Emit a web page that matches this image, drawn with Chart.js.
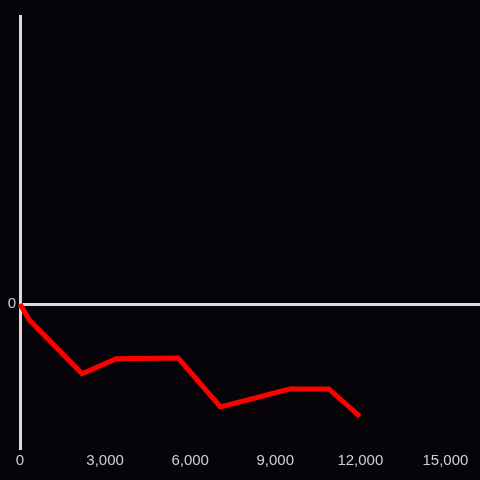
<!DOCTYPE html>
<html lang="en">
<head>
    <meta charset="UTF-8">
    <title>Line chart</title>
    <script src="https://cdn.jsdelivr.net/npm/chart.js"></script>
    <style>
        * {
            margin: 0;
            padding: 0;
            box-sizing: border-box;
        }

        body {
            background: #060408;
        }

        .chart-box {
            width: 480px;
            height: 480px;
        }
    </style>
</head>
<body>
    <div class="chart-box">
        <canvas id="line-chart"></canvas>
    </div>

    <script>
        // data
        const xValues = [0, 320, 2190, 3390, 5580, 7070, 9510, 10890, 11980];
        const yValues = [0, -110, -485, -380, -375, -715, -590, -590, -780];
        const xTicks = [0, 3000, 6000, 9000, 12000, 15000];
        const yTicks = [0];

        const points = xValues.map((x, i) => ({ x: x, y: yValues[i] }));

        const axisColor = '#dcdcdc';
        const labelColor = '#cfcfcf';

        const ctx = document.getElementById('line-chart').getContext('2d');
        new Chart(ctx, {
            type: 'line',
            data: {
                datasets: [{
                    data: points,
                    borderColor: '#ff0000',
                    borderWidth: 5,
                    pointRadius: 0,
                    tension: 0,
                    fill: false,
                    clip: false
                }]
            },
            options: {
                responsive: true,
                maintainAspectRatio: false,
                animation: false,
                layout: {
                    padding: { top: 16, right: 0, bottom: 0, left: 0 }
                },
                plugins: {
                    legend: { display: false },
                    tooltip: { enabled: false }
                },
                scales: {
                    x: {
                        type: 'linear',
                        min: 0,
                        max: 16220,
                        afterFit: (scale) => { scale.height = 32; },
                        afterBuildTicks: (scale) => {
                            scale.ticks = xTicks.map(v => ({ value: v }));
                        },
                        grid: { display: false, drawTicks: false },
                        border: { display: false },
                        ticks: {
                            color: labelColor,
                            padding: 4,
                            maxRotation: 0,
                            font: { family: 'Liberation Sans', size: 15 },
                            callback: (v) => v.toLocaleString('en-US')
                        }
                    },
                    y: {
                        min: -1000,
                        max: 2000,
                        afterFit: (scale) => { scale.width = 20; },
                        afterBuildTicks: (scale) => {
                            scale.ticks = yTicks.map(v => ({ value: v }));
                        },
                        grid: {
                            color: axisColor,
                            lineWidth: 3,
                            drawTicks: false
                        },
                        border: {
                            display: true,
                            color: axisColor,
                            width: 3
                        },
                        ticks: {
                            color: labelColor,
                            padding: 4,
                            font: { family: 'Liberation Sans', size: 15 }
                        }
                    }
                }
            }
        });
    </script>
</body>
</html>
